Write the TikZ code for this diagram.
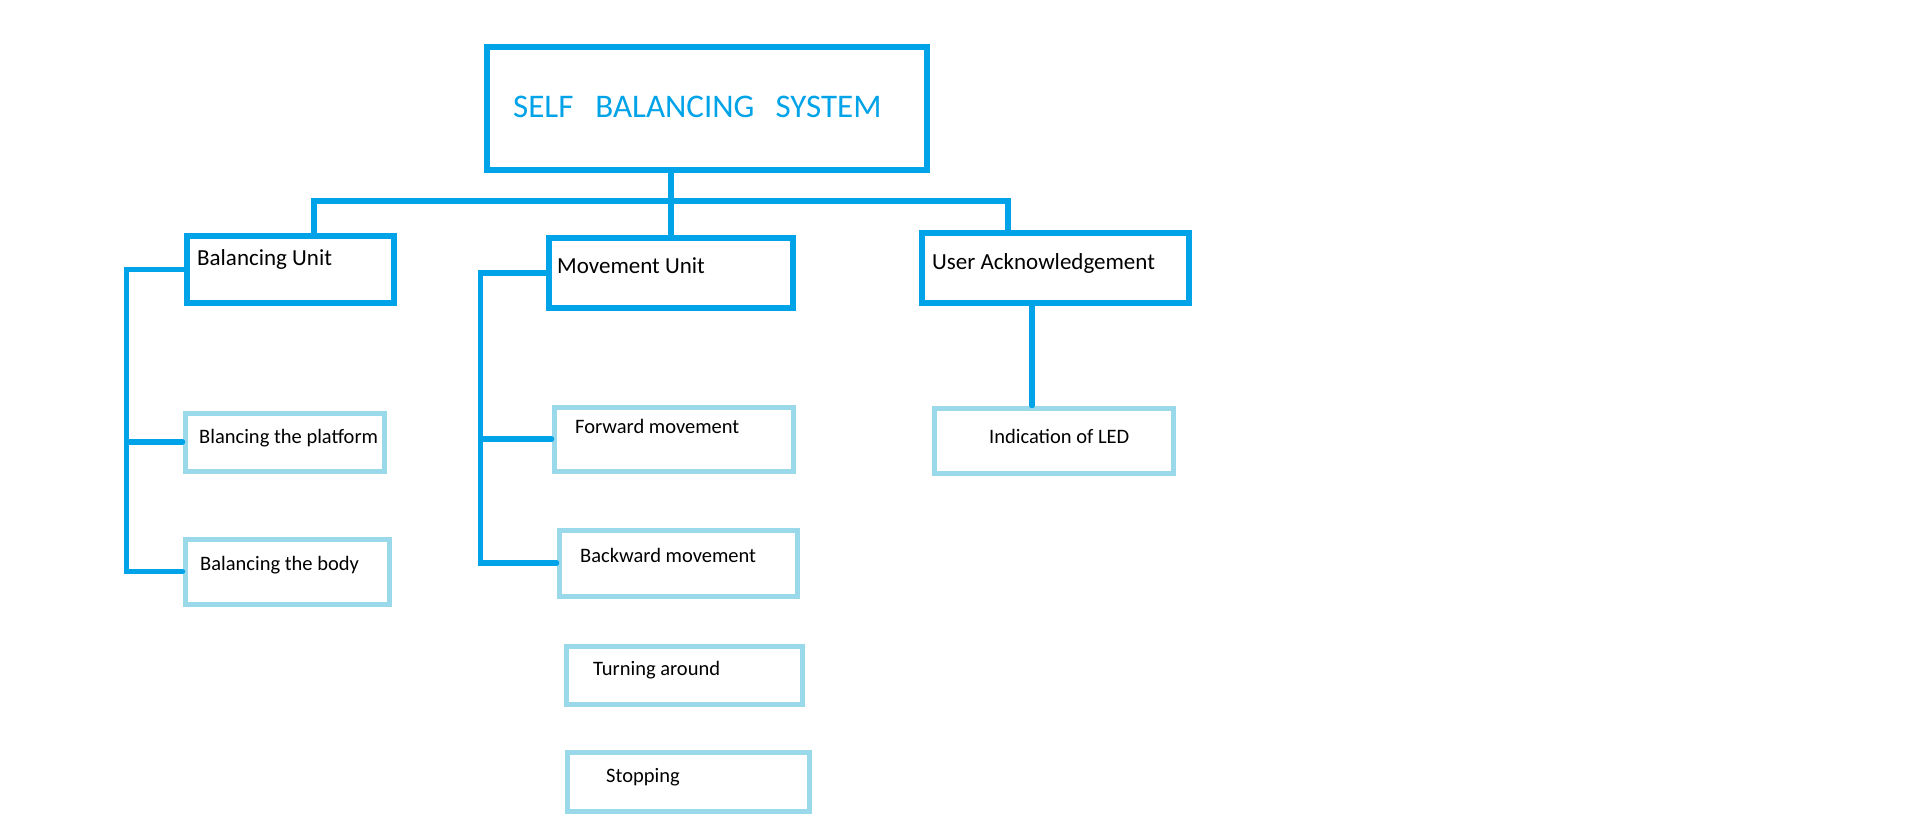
\documentclass[tikz,border=0pt]{standalone}
\usepackage{fontspec}
\setmainfont{Carlito}
\usepackage{tikz}

\definecolor{paintblue}{HTML}{00A2E8}
\definecolor{paintturq}{HTML}{99D9EA}

\begin{document}
\begin{tikzpicture}[x=1pt,y=-1pt,
  unitbox/.style={draw=paintblue,line width=5.5pt,rectangle,inner sep=0pt},
  taskbox/.style={draw=paintturq,line width=5pt,rectangle,inner sep=0pt},
  link/.style={paintblue,line width=5.5pt,line cap=round},
  bigtext/.style={anchor=base west,inner sep=0pt,font=\fontsize{23}{28}\selectfont},
  smalltext/.style={anchor=base west,inner sep=0pt,font=\fontsize{20.5}{24}\selectfont}]
\useasboundingbox (0,0) rectangle (1911,822);

\node[unitbox,minimum width=440pt,minimum height=123pt] (sys) at (707,108.5) {};
\node[anchor=base west,inner sep=0pt,text=paintblue,font=\fontsize{33}{38}\selectfont] (systxt) at (513,117) {SELF\hspace{22pt}BALANCING\hspace{21pt}SYSTEM};

\node[unitbox,minimum width=207pt,minimum height=67pt] (bal) at (290.5,269.5) {};
\node[unitbox,minimum width=244pt,minimum height=70pt] (move) at (671,273) {};
\node[unitbox,minimum width=267pt,minimum height=70pt] (user) at (1055.5,268) {};
\node[bigtext] (baltxt) at (197,265) {Balancing Unit};
\node[bigtext] (movetxt) at (557,273) {Movement Unit};
\node[bigtext] (usertxt) at (932,269) {User Acknowledgement};

\node[taskbox,minimum width=199pt,minimum height=58pt] (plat) at (284.5,442) {};
\node[taskbox,minimum width=204pt,minimum height=65pt] (body) at (287,571.5) {};
\node[taskbox,minimum width=239pt,minimum height=64pt] (fwd) at (673.5,439) {};
\node[taskbox,minimum width=238pt,minimum height=66pt] (bwd) at (678,563) {};
\node[taskbox,minimum width=236pt,minimum height=58pt] (turn) at (684,675) {};
\node[taskbox,minimum width=242pt,minimum height=59pt] (stop) at (688,781.5) {};
\node[taskbox,minimum width=239pt,minimum height=65pt] (led) at (1053.5,440.5) {};

\node[smalltext] (plattxt) at (199,443) {Blancing the platform};
\node[smalltext] (bodytxt) at (200,570) {Balancing the body};
\node[smalltext] (fwdtxt) at (575,433) {Forward movement};
\node[smalltext] (bwdtxt) at (580,562) {Backward movement};
\node[smalltext] (turntxt) at (593,675) {Turning around};
\node[smalltext] (stoptxt) at (606,782) {Stopping};
\node[smalltext] (ledtxt) at (989,443) {Indication of LED};

% top level
\coordinate (busL) at (314,201);
\coordinate (busR) at (1008,201);
\draw[link] (move.north |- sys.south) -- (move.north);
\draw[link] (busL |- bal.north) -- (busL) -- (busR) -- (busR |- user.north);

% balancing unit
\draw[link] (bal.west) -- ++(-58,0) coordinate (balbar) |- (plat.west);
\draw[link] (balbar) |- (body.west);

% movement unit
\draw[link] (move.west) -- ++(-66,0) coordinate (movebar) |- (fwd.west);
\draw[link] (movebar) |- (bwd.west);

% user acknowledgement
\coordinate (userdrop) at (1032,303);
\draw[link] (userdrop) -- (userdrop |- led.north);
\end{tikzpicture}
\end{document}
